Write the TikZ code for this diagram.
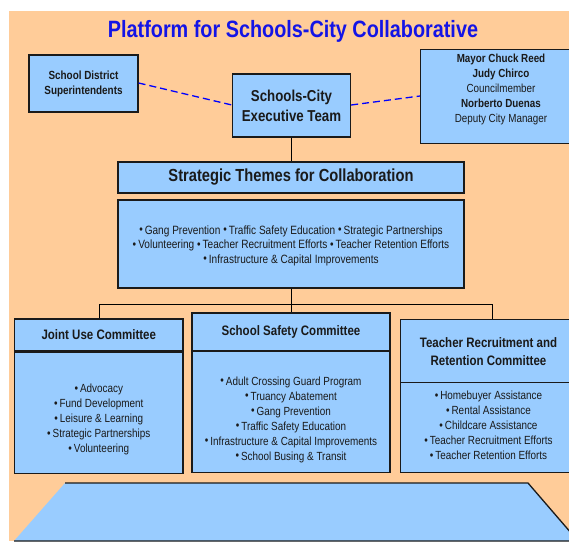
\documentclass[tikz,border=0pt]{standalone}
\usepackage{fontspec}
\setmainfont{Liberation Sans}[FakeStretch=0.84]
\definecolor{bgorange}{HTML}{FFCC99}
\definecolor{boxblue}{HTML}{99CCFF}
\definecolor{titleblue}{HTML}{1414E6}
\definecolor{ink}{HTML}{1A1A1A}
\tikzset{
  box/.style={draw=ink, fill=boxblue, line width=1.3pt, inner sep=0pt, align=center, text=ink},
  conn/.style={draw=black, line width=0.9pt},
  dashconn/.style={draw=blue, line width=1.3pt, dash pattern=on 7pt off 4pt},
  fbig/.style={font=\fontsize{15.8}{20}\selectfont\bfseries},
  fhead/.style={font=\fontsize{13.7}{18}\selectfont\bfseries},
  fitem/.style={font=\fontsize{11.8}{15}\selectfont},
}
\newcommand{\bul}{{\fontsize{12}{12}\selectfont\raisebox{0.3pt}{•}}\,}
\begin{document}
\begin{tikzpicture}[x=1pt,y=-1pt]
\useasboundingbox (0,0) rectangle (569,541);
\clip (0,0) rectangle (569,541);
\fill[white] (0,0) rectangle (569,541);
\fill[bgorange] (9,11) rectangle (569,541);
% title
\node[text=titleblue, font=\fontsize{23.6}{26}\selectfont\bfseries] (title) at (293,31) {Platform for Schools-City Collaborative};
% top row
\node[box, minimum width=109pt, minimum height=57pt, font=\fontsize{11.8}{15}\selectfont\bfseries] (sd) at (83.5,83.5) {School District\\Superintendents};
\node[box, minimum width=118pt, minimum height=63pt, fbig] (exec) at (291.5,105.5) {Schools-City\\Executive Team};
\node[box, minimum width=162pt, minimum height=94pt, anchor=north west] (mayor) at (420,49) {};
\node[align=center, text=ink, font=\fontsize{11.7}{15}\selectfont, anchor=north] (mayortxt) at (501,50.5) {\textbf{Mayor Chuck Reed}\\\textbf{Judy Chirco}\\Councilmember\\\textbf{Norberto Duenas}\\Deputy City Manager};
\draw[dashconn] (sd.east |- 0,83) -- (exec.west |- 0,105);
\draw[dashconn] (exec.east |- 0,105) -- (mayor.west |- 0,96);
% themes
\node[box, minimum width=346pt, minimum height=31pt, font=\fontsize{17.5}{20}\selectfont\bfseries] (themes) at (291,177.5) {Strategic Themes for Collaboration};
\node[box, minimum width=346pt, minimum height=88pt] (themebody) at (291,244) {};
\node[align=center, text=ink, font=\fontsize{12}{14.5}\selectfont] (themetxt) at (291,245.5)
  {\bul Gang Prevention \bul Traffic Safety Education \bul Strategic Partnerships\\
   \bul Volunteering \bul Teacher Recruitment Efforts \bul Teacher Retention Efforts\\
   \bul Infrastructure \& Capital Improvements};
\draw[conn] (exec.south -| themes.north) -- (themes.north);
% committees
\node[box, minimum width=168.5pt, minimum height=32pt, fhead] (jhead) at (98.75,335) {Joint Use Committee};
\node[box, minimum width=168.5pt, minimum height=121pt, anchor=north] (jbody) at (jhead.south) {};
\node[fitem, align=center, text=ink] (jtxt) at (98.75,419.5) {\bul Advocacy\\\bul Fund Development\\\bul Leisure \& Learning\\\bul Strategic Partnerships\\\bul Volunteering};
\node[box, minimum width=198pt, minimum height=38pt, fhead] (shead) at (291,332) {School Safety Committee};
\node[box, minimum width=198pt, minimum height=121pt, anchor=north] (sbody) at (291,351) {};
\node[fitem, align=center, text=ink] (stxt) at (291,419.5) {\bul Adult Crossing Guard Program\\\bul Truancy Abatement\\\bul Gang Prevention\\\bul Traffic Safety Education\\\bul Infrastructure \& Capital Improvements\\\bul School Busing \& Transit};
\node[box, minimum width=177pt, minimum height=63pt, anchor=north west] (thead) at (400,319) {};
\node[fhead, align=center, text=ink] (theadtxt) at (488.5,352) {Teacher Recruitment and\\Retention Committee};
\node[box, minimum width=177pt, minimum height=90pt, anchor=north west] (tbody) at (400,382) {};
\node[fitem, align=center, text=ink] (ttxt) at (488.5,425.5) {\bul Homebuyer Assistance\\\bul Rental Assistance\\\bul Childcare Assistance\\\bul Teacher Recruitment Efforts\\\bul Teacher Retention Efforts};
% bus
\coordinate (busL) at (99,304);
\coordinate (busM) at (291,304);
\coordinate (busR) at (492,304);
\draw[conn] (themebody.south) -- (busM);
\draw[conn] (busL) -- (busR);
\draw[conn] (busL) -- (busL |- jhead.north);
\draw[conn] (busM) -- (shead.north);
\draw[conn] (busR) -- (busR |- thead.north);
% trapezoid
\draw[draw=ink, fill=boxblue, line width=1.3pt] (65,483) -- (528,483) -- (578,541) -- (14,541);
\end{tikzpicture}
\end{document}
